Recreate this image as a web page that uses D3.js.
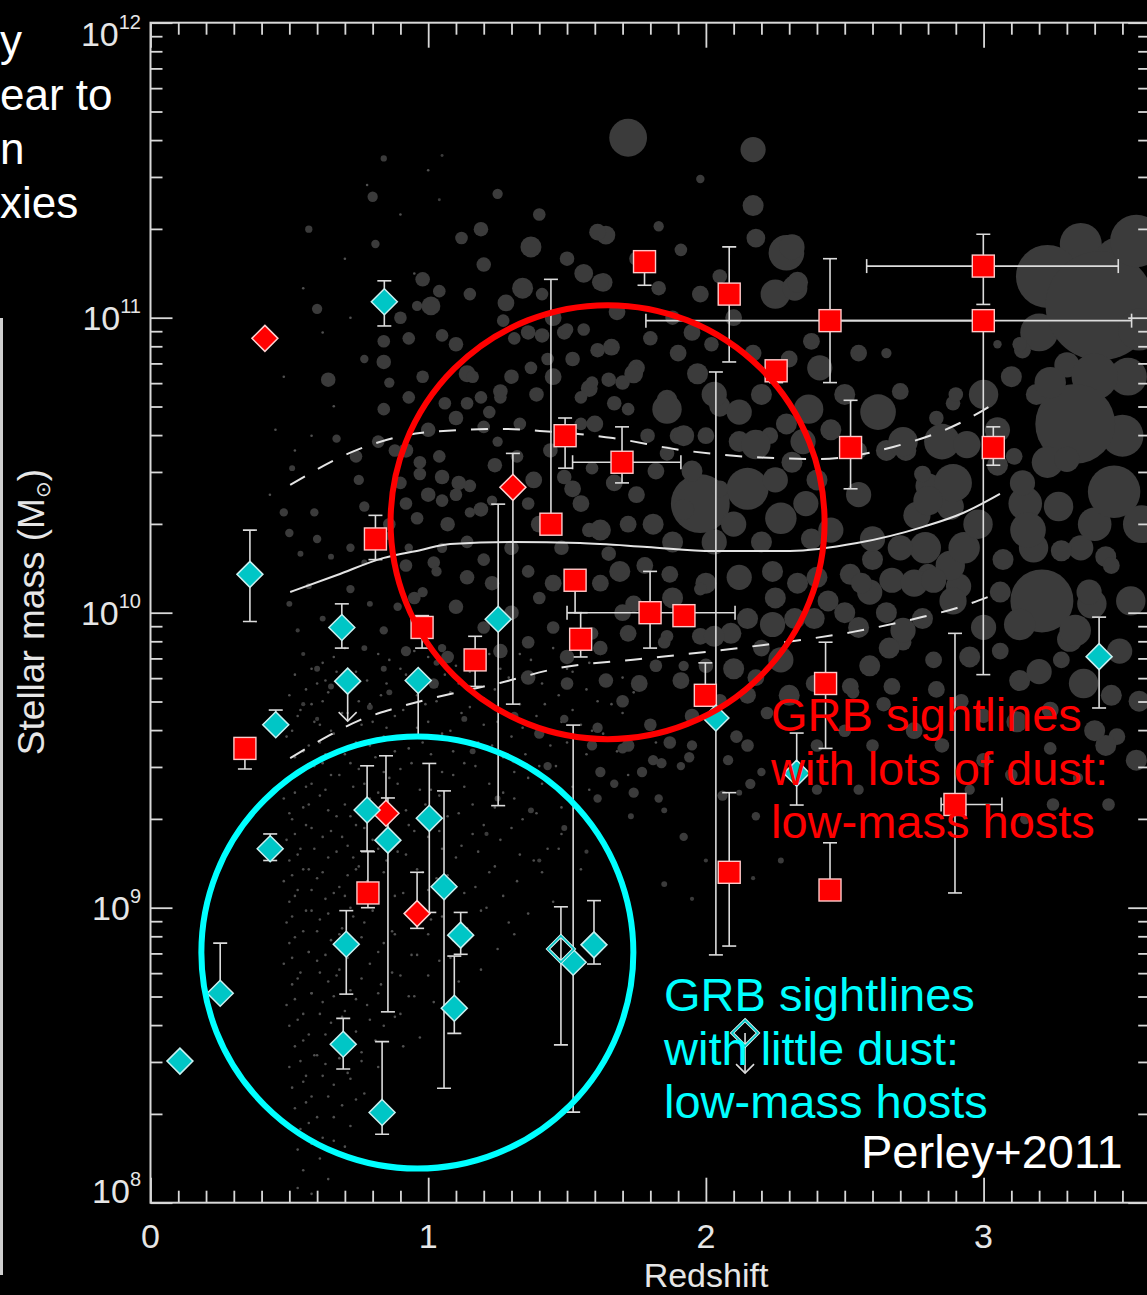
<!DOCTYPE html>
<html>
<head>
<meta charset="utf-8">
<script src="https://cdn.jsdelivr.net/npm/d3@7"></script>
<style>
  html, body { margin: 0; padding: 0; background: #000; overflow: hidden; }
  svg { display: block; }
</style>
</head>
<body>
<script>
// ---------------------------------------------------------------------------
// Field galaxy sample: redshift, log10 stellar mass, star-formation rate
// ---------------------------------------------------------------------------
const fieldGalaxies = [
  // high-mass outliers
  [1.72,11.61,81],[2.17,11.57,36],[2.17,11.38,25],[2.18,11.27,20],[2.29,11.22,72],
  [1.64,11.28,20],[1.98,11.08,16],[2.25,11.08,49],[2.32,11.10,36],[1.83,11.10,12],
  [1.63,11.12,20],[1.91,11.23,9],[2.05,11.14,12],[1.83,11.31,6],[2.31,11.24,36],
  [2.33,11.12,25],[1.98,11.47,4],
  [1.20,11.18,12],[1.28,11.05,16],[1.45,11.00,16],[1.50,11.20,12],[1.68,11.02,16],
  [1.75,11.20,12],[1.88,11.00,12],[1.15,11.08,9],[0.90,11.00,9],[1.40,11.35,9],[1.25,11.42,6],
  // z < 1.6, upper envelope
  [0.84,11.54,2.25],[1.05,11.55,0.5],[0.80,11.41,6],[1.04,11.40,0.5],[0.57,11.30,3],
  [0.81,11.25,4],[1.12,11.27,9],[1.19,11.30,12],[1.37,11.24,25],[0.98,11.13,12],
  [1.04,11.09,9],[1.01,11.04,20],[0.96,11.04,6],[0.60,11.03,6],[1.34,11.10,25],
  [1.56,11.15,20],[1.41,11.08,9],[1.49,10.95,12],[1.41,10.94,12],[1.27,10.99,9],
  [1.31,10.93,9],[1.05,10.94,9],[1.10,10.91,12],[0.84,10.92,9],[0.93,10.93,9],
  [0.77,10.86,4],[0.84,10.85,12],[0.86,10.78,6],[0.64,10.79,12],[0.98,10.80,9],
  [1.14,10.81,16],[1.26,10.73,9],[1.39,10.74,12],[1.58,10.76,16],[0.93,10.73,9],
  [1.06,10.71,9],[1.14,10.71,9],[0.84,10.69,9],[1.20,10.63,9],[1.33,10.64,9],
  [0.67,10.59,4],[0.82,10.58,9],[0.74,10.53,9],[0.92,10.55,12],[1.25,10.58,6],
  [1.32,10.53,9],[0.97,10.47,9],[1.05,10.46,12],[0.75,10.45,6],[1.15,10.43,9],
  [1.49,10.46,12],[0.48,10.34,4],[0.59,10.34,4],[0.92,10.37,9],[1.05,10.38,9],
  [1.15,10.34,6],[1.23,10.38,6],[1.58,10.28,12],[0.77,10.36,6],[0.51,10.49,2],
  [1.61,11.29,16],[1.62,11.12,16],
  // 1 < z < 2.4 around the median
  [1.36,10.95,12],[1.50,10.96,9],[1.56,10.96,9],[1.61,10.89,12],[1.75,10.83,16],
  [1.70,10.78,12],[1.59,10.78,9],[1.55,10.73,9],[1.43,10.86,9],[1.37,10.83,9],
  [1.26,10.75,12],[1.19,10.73,9],[1.16,10.80,9],[1.67,10.71,12],[1.86,10.72,25],
  [1.72,10.69,9],[1.55,10.64,9],[1.60,10.64,16],[1.79,10.60,12],[1.86,10.54,12],
  [2.00,10.60,16],[2.12,10.58,25],[2.23,10.60,16],[2.31,10.51,25],[2.36,10.37,36],
  [2.27,10.32,56],[2.15,10.42,100],[1.98,10.37,196],[2.03,10.24,36],[1.88,10.24,25],
  [1.81,10.30,25],[1.72,10.30,16],[1.62,10.28,25],[1.55,10.37,16],[1.67,10.44,16],
  [1.59,10.49,9],[1.38,10.45,16],[1.36,10.37,9],[1.19,10.35,12],[1.11,10.44,12],
  [1.04,10.53,9],[0.97,10.51,9],[0.90,10.44,9],[0.96,10.32,9],[1.07,10.30,12],
  [1.14,10.24,9],[0.92,10.16,9],[1.02,10.17,9],[1.14,10.12,12],[1.23,10.10,12],
  [1.36,10.14,9],[1.45,10.10,16],[1.62,10.10,16],[1.69,10.14,25],[1.74,10.03,16],
  [1.88,10.05,25],[2.00,10.10,25],[2.12,10.12,36],[2.24,10.14,25],[2.33,10.10,25],
  [2.39,9.98,25],[2.24,9.96,36],[2.09,9.93,25],[1.98,9.92,16],[1.86,9.92,9],
  [1.72,9.93,16],[1.59,9.93,9],[1.45,9.95,9],[1.36,9.90,9],[1.26,9.87,12],
  [1.07,9.85,9],[0.92,9.87,6],[1.02,9.76,6],[1.36,9.78,12],[1.50,9.76,9],
  [1.64,9.77,12],[1.76,9.76,16],[1.91,9.77,16],[2.10,9.81,25],[2.27,9.84,36],
  [2.39,9.76,16],[1.87,10.13,16],[1.98,10.08,9],
  [1.00,10.62,12],[1.10,10.66,12],[1.22,10.68,9],[1.30,10.80,12],[1.45,10.80,16],
  [1.52,10.86,12],[1.66,10.90,16],[1.80,10.93,12],[1.90,10.88,16],[1.24,10.50,12],
  [1.44,10.55,12],[1.52,10.42,16],[1.40,10.30,16],[1.48,10.22,12],[1.30,10.22,12],
  [1.20,10.18,9],[1.10,10.40,9],[1.00,10.40,12],[0.88,10.55,9],[0.86,10.30,9],
  [0.95,10.05,9],[1.10,10.02,12],[1.20,9.95,9],[1.30,10.00,12],[1.40,10.05,9],
  [1.50,9.85,12],[1.62,9.88,12],[1.70,10.00,16],[1.78,10.16,16],[1.65,10.20,12],
  [1.75,10.40,16],[1.82,10.48,16],[1.95,10.48,25],[2.05,10.42,16],[2.05,10.70,25],
  [2.20,10.74,25],[2.30,10.86,16],[1.95,10.95,16],[2.10,11.00,16],
  [2.35,10.58,36],[2.25,10.45,36],[2.38,10.25,25],[2.20,10.24,25],[2.10,10.30,36],
  [1.92,10.35,25],[1.90,10.60,16],
  [2.25,10.05,25],[2.40,10.12,25],[2.50,10.00,25],[2.65,10.00,25],[2.60,10.18,25],[2.78,9.98,25],
  [1.70,9.70,9],[1.80,9.62,9],[1.95,9.65,12],[2.05,9.70,12],[2.15,9.72,16],
  [2.20,9.88,16],[2.00,9.82,12],[1.85,9.90,9],
  // 2.4 < z < 3.1, lower masses
  [2.52,10.13,25],[2.67,10.11,36],[2.80,10.13,25],[2.91,10.09,36],[3.06,10.07,25],
  [2.59,10.07,36],[2.55,9.95,25],[2.71,9.90,16],[2.82,9.84,16],[2.59,9.82,25],
  [2.67,9.75,16],[2.53,9.73,9],[2.31,9.73,9],[2.22,9.66,9],[2.15,9.55,9],
  [2.08,9.50,6],[2.20,9.46,4],[2.12,9.39,2],[1.95,9.55,6],[1.91,9.48,4],
  [1.81,9.50,6],[1.72,9.55,9],[1.59,9.55,6],[1.74,9.39,6],[1.83,9.37,4],
  [1.62,9.46,6],[1.77,9.46,6],[2.27,9.16,2],[2.17,9.10,1],[2.00,9.16,1],
  [1.82,9.82,9],[1.92,9.82,6],[2.18,9.78,16],[2.30,9.72,25],[2.52,9.75,16],
  [2.64,9.69,12],[2.83,9.74,16],[3.00,9.65,12],[3.12,9.63,25],[3.24,9.67,16],
  [3.36,9.76,49],[3.46,9.72,25],[3.48,9.58,16],[3.44,9.55,25],[3.24,9.54,9],
  [3.34,9.44,6],[1.87,9.56,9],[1.84,9.49,6],[1.94,9.51,6],[2.11,9.58,9],
  [2.16,9.42,6],[2.06,9.38,6],[2.18,9.31,4],[1.85,9.33,2],[1.92,9.24,4],
  [1.85,9.08,2],[1.95,9.03,1],
  [2.75,9.60,16],[2.85,9.55,12],[3.00,9.50,12],[3.10,9.45,9],[2.60,9.55,9],
  [2.50,9.60,9],[2.40,9.55,9],[2.40,9.40,6],[2.55,9.40,6],[2.95,9.40,6],
  [3.15,9.30,6],[3.25,9.35,9],[3.45,9.35,9],
  // z > 2.7, most massive and most star-forming
  [3.21,10.04,225],[3.39,10.03,49],[3.49,9.87,36],[2.79,10.22,56],[2.88,10.16,49],
  [2.75,10.10,42],[2.89,10.04,42],[2.71,9.94,36],[2.66,9.88,25],[2.56,10.10,25],
  [2.44,10.04,25],[2.32,9.98,25],[2.15,9.98,25],[2.03,9.92,25],[3.18,10.22,49],
  [3.35,10.22,36],[3.44,10.19,25],[2.93,10.22,56],[2.82,10.11,36],[3.07,10.18,25],
  [3.28,10.21,25],[3.46,10.16,16],[3.38,10.07,36],[3.31,9.91,36],[3.53,10.04,49],
  [3.06,9.87,16],[3.13,9.77,25],[2.92,9.70,12],[3.56,9.70,25],[3.28,9.84,16],
  [3.33,9.94,56],[3.13,9.96,56],
  [2.98,10.30,49],[3.05,10.62,36],[3.10,10.80,25],[3.30,10.84,36],[3.35,11.25,100],
  [3.48,11.20,100],[3.50,10.60,100],[3.52,10.80,81],[3.40,10.30,64],[3.57,10.30,81],
  [3.00,9.95,36],[2.95,9.85,25],[3.20,9.80,36],[3.40,9.60,25],[3.55,9.50,25],
  [2.45,10.62,25],[2.40,10.45,25],[2.45,10.28,36],[2.55,10.40,36],[2.60,10.25,36],
  [2.65,10.55,25],[2.55,10.55,16],[2.70,10.22,36],[2.70,10.75,16],[2.55,10.88,16],
  [1.74,10.81,20],[1.65,10.79,12],[1.97,10.81,25],[2.02,10.91,12],[2.17,10.88,16],
  [2.03,10.74,36],[2.12,10.68,36],[1.86,10.69,49],[1.92,10.60,25],[2.18,10.57,49],
  [2.29,10.64,25],[2.37,10.69,49],[2.41,10.83,36],[2.38,10.92,16],[2.50,10.74,25],
  [2.62,10.68,72],[2.72,10.55,25],[2.85,10.58,72],[2.94,10.57,42],[2.80,10.43,36],
  [2.88,10.36,42],[2.76,10.33,42],[3.00,10.74,49],[2.89,10.71,12],[3.05,10.50,25],
  [3.11,10.53,16],[3.19,10.74,25],[3.20,10.95,81],[3.14,10.89,16],[3.23,11.14,225],
  [3.42,11.04,676],[3.40,10.80,121],[3.33,10.64,361],[3.47,10.41,156],[3.15,10.37,64],
  [3.27,10.36,49],[2.65,10.88,6],[3.13,10.91,12],[3.05,10.91,4],[2.83,10.66,12],
  [2.90,10.74,12],[2.71,10.58,49],[2.78,10.47,16],[2.89,10.44,81],[2.80,10.38,49],
  [3.24,10.78,56],[3.23,10.51,56],[3.14,10.44,36],[3.30,10.52,36],[3.16,10.28,72],
  [3.55,11.26,156],[3.56,10.96,100],
  // z < 1.1, below 10^10.3
  [0.50,10.27,4],[0.54,10.20,2],[0.60,10.25,4],[0.65,10.19,2],[0.72,10.22,4],
  [0.77,10.17,2],[0.50,10.03,2],[0.57,10.09,2],[0.72,10.08,4],[0.79,10.03,2],
  [0.62,9.98,2],[0.53,9.94,1],[0.77,9.88,2],[0.84,9.94,4],[0.89,10.02,4],
  [0.98,10.07,6],[1.03,10.14,6],[1.05,10.22,6],[0.93,10.22,4],[0.86,10.26,4],
  [0.55,9.86,1],[0.60,9.81,2],[0.65,9.75,2],[0.55,9.69,1],[0.84,9.81,2],
  [0.86,9.73,2],[0.79,9.68,2],[0.60,9.64,1],[1.05,9.88,4],[1.03,9.83,2],
  [1.31,9.65,4],[1.40,9.59,6],[1.49,9.64,4],[1.61,9.61,6],[1.70,9.54,6],
  [1.67,9.42,4],[1.61,9.37,4],[1.43,9.48,4],[1.31,9.50,2],[1.25,9.37,2],
  [1.37,9.33,2],[1.49,9.27,2],[1.73,9.31,2],[1.16,9.53,2],[1.13,9.64,2],
  [1.21,9.25,1],[1.57,9.19,1],[1.40,9.16,1]
];

// Faint, low-mass field galaxies: redshift, log10 stellar mass
const faintGalaxies = [
  [0.55,9.86],[0.62,9.83],[0.70,9.88],[0.86,9.84],[0.95,9.87],[1.10,9.82],[1.22,9.86],[1.37,9.84],[1.45,9.88],[1.58,9.83],
  [0.52,9.79],[0.60,9.76],[0.67,9.80],[0.78,9.77],[0.92,9.79],[1.03,9.75],[1.15,9.80],[1.29,9.78],[1.41,9.76],[1.52,9.80],[1.66,9.77],
  [0.50,9.72],[0.58,9.69],[0.64,9.73],[0.75,9.70],[0.83,9.72],[0.99,9.69],[1.08,9.73],[1.20,9.71],[1.33,9.69],[1.47,9.72],[1.61,9.70],[1.74,9.73],
  [0.53,9.65],[0.61,9.62],[0.69,9.66],[0.80,9.63],[0.88,9.65],[0.96,9.61],[1.12,9.66],[1.25,9.63],[1.39,9.65],[1.55,9.62],[1.70,9.66],
  [0.49,9.58],[0.57,9.55],[0.66,9.59],[0.74,9.56],[0.84,9.58],[0.93,9.54],[1.05,9.59],[1.18,9.56],[1.30,9.58],[1.44,9.55],[1.63,9.59],[1.82,9.56],
  [0.52,9.51],[0.59,9.48],[0.63,9.52],[0.72,9.49],[0.81,9.51],[0.90,9.47],[1.01,9.52],[1.13,9.49],[1.27,9.51],[1.40,9.48],[1.57,9.52],
  [0.50,9.44],[0.56,9.41],[0.65,9.45],[0.77,9.42],[0.86,9.44],[0.97,9.40],[1.09,9.45],[1.22,9.42],[1.36,9.44],[1.52,9.41],[1.72,9.45],
  [0.48,9.37],[0.55,9.34],[0.61,9.38],[0.70,9.35],[0.79,9.37],[0.92,9.33],[1.04,9.38],[1.16,9.35],[1.31,9.37],[1.48,9.34],
  [0.51,9.30],[0.58,9.27],[0.67,9.31],[0.74,9.28],[0.83,9.30],[0.95,9.26],[1.07,9.31],[1.20,9.28],[1.34,9.30],[1.60,9.27],
  [0.49,9.23],[0.54,9.20],[0.62,9.24],[0.71,9.21],[0.80,9.23],[0.89,9.19],[1.00,9.24],[1.12,9.21],[1.26,9.23],[1.43,9.20],
  [0.50,9.16],[0.57,9.13],[0.64,9.17],[0.75,9.14],[0.85,9.16],[0.98,9.12],[1.10,9.17],[1.24,9.14],[1.38,9.16],[1.55,9.13],
  [0.48,9.09],[0.53,9.06],[0.60,9.10],[0.68,9.07],[0.78,9.09],[0.91,9.05],[1.03,9.10],[1.17,9.07],[1.32,9.09],
  [0.50,9.02],[0.56,8.99],[0.63,9.03],[0.72,9.00],[0.82,9.02],[0.94,8.98],[1.06,9.03],[1.21,9.00],[1.45,9.02],
  [0.49,8.95],[0.55,8.92],[0.61,8.96],[0.69,8.93],[0.77,8.95],[0.88,8.91],[1.01,8.96],[1.14,8.93],[1.29,8.95],
  [0.50,8.88],[0.57,8.85],[0.65,8.89],[0.73,8.86],[0.84,8.88],[0.96,8.84],[1.09,8.89],[1.25,8.86],
  [0.48,8.81],[0.54,8.78],[0.60,8.82],[0.68,8.79],[0.79,8.81],[0.90,8.77],[1.04,8.82],[1.19,8.79],
  [0.51,8.74],[0.58,8.71],[0.64,8.75],[0.72,8.72],[0.83,8.74],[0.95,8.70],[1.11,8.75],
  [0.49,8.67],[0.55,8.64],[0.62,8.68],[0.70,8.65],[0.78,8.67],[0.88,8.63],[1.02,8.68],
  [0.50,8.60],[0.57,8.57],[0.65,8.61],[0.74,8.58],[0.84,8.60],[0.97,8.56],
  [0.52,8.53],[0.59,8.50],[0.67,8.54],[0.76,8.51],[0.91,8.53],
  [0.50,8.46],[0.56,8.43],[0.63,8.47],[0.71,8.44],[0.82,8.46],
  [0.51,8.39],[0.58,8.36],[0.66,8.40],[0.77,8.37],
  [0.52,8.32],[0.60,8.29],[0.69,8.33],[0.80,8.30],
  [0.54,8.25],[0.62,8.22],[0.72,8.26],
  [0.53,8.18],[0.61,8.15],[0.70,8.19],
  [0.55,8.11],[0.64,8.08],[0.53,8.05],[0.58,8.03],
  [0.58,9.81],[0.66,9.85],[0.74,9.80],[0.82,9.86],[0.90,9.81],[1.00,9.85],[1.06,9.79],[1.18,9.84],[1.26,9.81],[1.33,9.86],[1.50,9.81],[1.62,9.86],
  [0.56,9.74],[0.63,9.77],[0.71,9.73],[0.85,9.76],[0.96,9.72],[1.11,9.76],[1.24,9.74],[1.36,9.77],[1.57,9.74],[1.70,9.78],
  [0.54,9.67],[0.62,9.70],[0.71,9.66],[0.79,9.69],[0.91,9.67],[1.03,9.70],[1.15,9.68],[1.28,9.66],[1.42,9.69],[1.52,9.67],[1.66,9.69],
  [0.51,9.60],[0.59,9.63],[0.65,9.60],[0.76,9.62],[0.85,9.61],[1.00,9.63],[1.08,9.60],[1.20,9.62],[1.34,9.61],[1.48,9.63],[1.59,9.60],
  [0.55,9.53],[0.61,9.56],[0.70,9.52],[0.79,9.55],[0.88,9.53],[0.98,9.56],[1.09,9.53],[1.23,9.55],[1.35,9.52],[1.50,9.56],[1.68,9.53],
  [0.54,9.46],[0.62,9.49],[0.68,9.45],[0.75,9.47],[0.84,9.46],[0.94,9.49],[1.05,9.46],[1.17,9.48],[1.31,9.46],[1.46,9.48],[1.62,9.46],
  [0.52,9.39],[0.58,9.42],[0.63,9.40],[0.73,9.41],[0.82,9.39],[0.89,9.42],[1.01,9.40],[1.13,9.41],[1.27,9.39],[1.41,9.42],[1.58,9.40],
  [0.50,9.32],[0.57,9.35],[0.64,9.33],[0.72,9.31],[0.77,9.34],[0.86,9.32],[0.99,9.35],[1.11,9.32],[1.24,9.34],[1.39,9.32],[1.52,9.35],
  [0.52,9.25],[0.56,9.28],[0.65,9.26],[0.69,9.24],[0.77,9.27],[0.86,9.25],[0.93,9.28],[1.04,9.26],[1.16,9.25],[1.30,9.27],[1.48,9.25],
  [0.53,9.18],[0.59,9.20],[0.67,9.19],[0.73,9.17],[0.82,9.20],[0.92,9.18],[1.05,9.20],[1.18,9.19],[1.33,9.18],[1.47,9.20],
  [0.51,9.11],[0.55,9.13],[0.62,9.12],[0.71,9.11],[0.74,9.13],[0.84,9.12],[0.96,9.13],[1.07,9.11],[1.22,9.12],[1.41,9.12],
  [0.52,9.04],[0.58,9.06],[0.66,9.05],[0.70,9.04],[0.79,9.06],[0.88,9.04],[1.00,9.06],[1.13,9.05],[1.27,9.04],
  [0.51,8.97],[0.58,8.99],[0.64,8.98],[0.73,8.97],[0.80,8.99],[0.92,8.98],[1.05,8.97],[1.19,8.99],[1.36,8.98],
  [0.52,8.90],[0.60,8.92],[0.68,8.91],[0.76,8.90],[0.87,8.92],[1.00,8.91],[1.14,8.90],[1.31,8.91],
  [0.51,8.83],[0.57,8.85],[0.63,8.84],[0.71,8.83],[0.82,8.85],[0.94,8.84],[1.08,8.83],
  [0.53,8.76],[0.61,8.78],[0.67,8.77],[0.76,8.76],[0.87,8.78],[1.00,8.77],
  [0.52,8.69],[0.58,8.71],[0.66,8.70],[0.74,8.69],[0.82,8.71],[0.93,8.70],
  [0.53,8.62],[0.61,8.64],[0.69,8.63],[0.79,8.62],[0.90,8.64],
  [0.55,8.55],[0.63,8.57],[0.71,8.56],[0.81,8.55],
  [0.54,8.48],[0.60,8.50],[0.68,8.49],[0.76,8.48],
  [0.55,8.41],[0.62,8.43],[0.72,8.42],
  [0.56,8.34],[0.64,8.36],[0.74,8.35],
  [0.57,8.27],[0.66,8.29],
  [0.58,8.20],[0.66,8.21],
  [0.55,11.10],[0.62,10.95],[0.70,11.20],[0.48,10.80],[0.78,11.45],[0.66,10.70],[0.58,10.60],
  [0.90,11.35],[1.00,11.50],[0.52,10.55],[0.45,10.62],[0.72,11.00],[0.95,11.15],[0.43,10.40]
];

// Median and 1-sigma envelope of the field mass distribution (redshift, log M)
const medianZ = [0.503,0.672,0.837,0.971,1.079,1.306,1.547,1.788,2.026,2.303,2.544,2.782,2.926,3.059];
const medianM = [10.070,10.128,10.185,10.212,10.233,10.240,10.236,10.223,10.209,10.209,10.236,10.291,10.338,10.403];
const upperZ  = [0.503,0.744,1.006,1.269,1.402,1.665,1.907,2.159,2.411,2.674,2.915,3.059];
const upperM  = [10.433,10.552,10.613,10.623,10.616,10.592,10.552,10.528,10.521,10.562,10.643,10.721];
const lowerZ  = [0.503,0.634,0.754,0.873,1.032,1.258,1.474,1.763,2.026,2.267,2.530,2.782,2.904,3.034];
const lowerM  = [9.507,9.579,9.636,9.674,9.714,9.762,9.813,9.843,9.870,9.898,9.935,9.986,10.016,10.060];

// Dusty GRB hosts (squares): z, log M, log M low, log M high, z low, z high
const dustySquares = [
  [0.340, 9.54, 9.47, null, null, null],
  [0.810, 10.25, 10.18, 10.33, null, null],
  [0.978, 9.95, 9.88, 9.99, null, null],
  [0.783, 9.05, 9.00, 9.19, null, null],
  [1.169, 9.84, 9.75, 9.92, null, null],
  [1.442, 10.30, null, 11.13, null, null],
  [1.493, 10.60, 10.49, 10.66, null, null],
  [1.698, 10.51, 10.44, 10.63, 1.52, 1.91],
  [1.529, 10.11, 10.00, null, null, null],
  [1.549, 9.91, 9.85, 10.00, null, null],
  [1.799, 10.00, 9.88, 10.14, 1.50, 2.105],
  [1.921, 9.99, null, null, null, null],
  [1.998, 9.72, null, 9.83, null, null],
  [2.084, 9.12, 8.87, 9.39, null, null],
  [1.779, 11.19, 11.11, null, null, null],
  [2.084, 11.08, 10.85, 11.24, null, null],
  [2.253, 10.82, 10.78, null, null, null],
  [2.447, 10.99, 10.78, 11.20, 1.784, 2.999],
  [2.521, 10.56, 10.42, 10.72, null, null],
  [2.431, 9.76, 9.54, 9.90, null, null],
  [2.447, 9.06, null, 9.22, null, null],
  [2.999, 11.175, 11.045, 11.283, 2.579, 3.485],
  [2.999, 10.99, 9.79, null, 2.447, 3.533],
  [3.035, 10.56, 10.50, 10.63, null, null],
  [2.897, 9.35, 9.05, 9.93, 2.847, 3.066]
];

// Dusty GRB hosts (diamonds): z, log M, log M low, log M high
const dustyDiamonds = [
  [0.412, 10.93, null, null],
  [1.305, 10.425, 9.69, 10.54],
  [0.848, 9.32, null, 9.515],
  [0.960, 8.98, 8.93, 9.12]
];

// Low-extinction GRB hosts: z, log M, log M low, log M high
const clearHosts = [
  [0.106, 8.48, null, null],
  [0.251, 8.71, null, 8.88],
  [0.358, 10.13, 9.97, 10.28],
  [0.431, 9.20, 9.16, 9.25],
  [0.451, 9.62, null, 9.67],
  [0.689, 9.95, 9.88, 10.03],
  [0.964, 9.77, 9.585, null],
  [0.705, 8.876, 8.707, 8.990],
  [0.694, 8.537, 8.453, 8.625],
  [0.834, 8.306, 8.232, 8.546],
  [0.780, 9.331, 9.192, 9.481],
  [0.855, 9.229, 8.647, 9.372],
  [1.004, 9.303, 8.984, 9.489],
  [1.057, 9.071, 8.388, 9.396],
  [1.117, 8.907, 8.842, 8.984],
  [1.094, 8.659, 8.574, 8.836],
  [1.252, 9.978, 9.346, 10.368],
  [0.842, 11.054, 10.972, 11.125],
  [1.522, 8.815, 8.307, 9.619],
  [1.597, 8.874, 8.809, 9.024],
  [2.036, 9.643, 8.840, 10.816],
  [2.327, 9.456, 9.348, 9.592],
  [3.416, 9.851, 9.677, 9.985]
];
// Low-extinction hosts with open symbols: z, log M, log M low, log M high
const clearOpenHosts = [
  [1.478, 8.860, 8.535, 9.003]
];
// Mass upper limits: z, log M, open symbol
const clearLimits = [
  [0.710, 9.768, false],
  [2.141, 8.575, true]
];

// Axis ticks
const xMajor = [0, 1, 2, 3];
const xMinor = d3.range(1, 36).map(i => i / 10).filter(v => Math.abs(v - Math.round(v)) > 1e-9);
const yExponents = [8, 9, 10, 11, 12];
const yMinor = [8, 9, 10, 11].flatMap(e => [2,3,4,5,6,7,8,9].map(k => k * Math.pow(10, e)));

// ---------------------------------------------------------------------------
const W = 1147, H = 1295;
const FONT = "'Liberation Sans', Arial, Helvetica, sans-serif";
const AXIS = "#d8d8d8";

const svg = d3.select("body").append("svg")
  .attr("width", W).attr("height", H)
  .style("background", "#000");

const x = d3.scaleLinear().domain([0, 3.6]).range([150.5, 1150.2]);
const y = d3.scaleLog().domain([1e8, 1e12]).range([1202.7, 22.7]);
const ym = m => y(Math.pow(10, m));
const rSfr = d3.scaleSqrt().domain([0, 100]).range([0, 21]);

const plot = svg.append("g");
plot.append("clipPath").attr("id", "plotArea")
  .append("rect")
  .attr("x", x(0)).attr("y", y(1e12))
  .attr("width", x(3.6) - x(0)).attr("height", y(1e8) - y(1e12));

// field galaxies
const field = plot.append("g").attr("clip-path", "url(#plotArea)");
field.selectAll("circle.faint").data(faintGalaxies).join("circle")
  .attr("class", "faint")
  .attr("cx", d => x(d[0])).attr("cy", d => ym(d[1]))
  .attr("r", 1.3).attr("fill", "#505050");
field.selectAll("circle.field").data(fieldGalaxies).join("circle")
  .attr("class", "field")
  .attr("cx", d => x(d[0])).attr("cy", d => ym(d[1]))
  .attr("r", d => Math.max(1.3, rSfr(d[2])))
  .attr("fill", "#3b3b3b");

// median and envelope of the field population
const line = d3.line().x(d => x(d[0])).y(d => ym(d[1])).curve(d3.curveMonotoneX);
const zip = (a, b) => a.map((v, i) => [v, b[i]]);
plot.append("path").attr("d", line(zip(medianZ, medianM)))
  .attr("fill", "none").attr("stroke", "#e4e4e4").attr("stroke-width", 2);
[[upperZ, upperM], [lowerZ, lowerM]].forEach(([zs, ms]) => {
  plot.append("path").attr("d", line(zip(zs, ms)))
    .attr("fill", "none").attr("stroke", "#e4e4e4").attr("stroke-width", 2)
    .attr("stroke-dasharray", "17,15");
});

// axes
const gAx = svg.append("g").attr("class", "axes");
function styleAxis(g) {
  g.select(".domain").remove();
  g.selectAll(".tick line").attr("stroke", AXIS).attr("stroke-width", 1.8);
  g.selectAll(".tick text").remove();
}
gAx.append("g").attr("transform", `translate(0,${y(1e8)})`)
  .call(d3.axisBottom(x).tickValues(xMinor).tickSize(-12).tickFormat("")).call(styleAxis);
gAx.append("g").attr("transform", `translate(0,${y(1e8)})`)
  .call(d3.axisBottom(x).tickValues(xMajor).tickSize(-25).tickFormat("")).call(styleAxis);
gAx.append("g").attr("transform", `translate(0,${y(1e12)})`)
  .call(d3.axisTop(x).tickValues(xMinor).tickSize(-12).tickFormat("")).call(styleAxis);
gAx.append("g").attr("transform", `translate(0,${y(1e12)})`)
  .call(d3.axisTop(x).tickValues(xMajor).tickSize(-25).tickFormat("")).call(styleAxis);
gAx.append("g").attr("transform", `translate(${x(0)},0)`)
  .call(d3.axisLeft(y).tickValues(yMinor).tickSize(-12).tickFormat("")).call(styleAxis);
gAx.append("g").attr("transform", `translate(${x(0)},0)`)
  .call(d3.axisLeft(y).tickValues(yExponents.map(e => Math.pow(10, e))).tickSize(-22).tickFormat("")).call(styleAxis);
gAx.append("g").attr("transform", `translate(${x(3.6)},0)`)
  .call(d3.axisRight(y).tickValues(yMinor).tickSize(-12).tickFormat("")).call(styleAxis);
gAx.append("g").attr("transform", `translate(${x(3.6)},0)`)
  .call(d3.axisRight(y).tickValues(yExponents.map(e => Math.pow(10, e))).tickSize(-22).tickFormat("")).call(styleAxis);
gAx.append("rect")
  .attr("x", x(0)).attr("y", y(1e12))
  .attr("width", x(3.6) - x(0)).attr("height", y(1e8) - y(1e12))
  .attr("fill", "none").attr("stroke", AXIS).attr("stroke-width", 2);

// x tick labels
gAx.selectAll("text.xl").data(xMajor).join("text")
  .attr("class", "xl")
  .attr("x", d => x(d)).attr("y", y(1e8) + 45)
  .attr("text-anchor", "middle")
  .attr("font-family", FONT).attr("font-size", 34).attr("fill", "#e6e6e6")
  .text(d => d);

// y tick labels: 10 with superscript exponent; end labels kept inside the frame
yExponents.forEach(e => {
  let base = y(Math.pow(10, e)) + 12;
  if (e === 12) base += 11;
  if (e === 8) base -= 12;
  const t = gAx.append("text")
    .attr("x", 141).attr("y", base)
    .attr("text-anchor", "end")
    .attr("font-family", FONT).attr("fill", "#e6e6e6");
  t.append("tspan").attr("font-size", 34).text("10");
  t.append("tspan").attr("font-size", 20).attr("dy", -17).text(e);
});

// axis titles
gAx.append("text")
  .attr("x", 706).attr("y", 1287)
  .attr("text-anchor", "middle")
  .attr("font-family", FONT).attr("font-size", 34).attr("fill", "#e6e6e6")
  .text("Redshift");
const yt = gAx.append("text")
  .attr("transform", "translate(44,612) rotate(-90)")
  .attr("text-anchor", "middle")
  .attr("font-family", FONT).attr("font-size", 37).attr("fill", "#e6e6e6");
yt.append("tspan").text("Stellar mass (M");
yt.append("tspan").attr("font-size", 20).attr("dy", 6).text("\u2299");
yt.append("tspan").attr("dy", -6).text(")");

// GRB hosts
const marks = svg.append("g").attr("clip-path", "url(#plotArea)");
const BAR = "#dcdcdc", CAP = 7;
function errV(zv, m, lo, hi) {
  const cx = x(zv);
  const y0 = ym(lo == null ? m : lo), y1 = ym(hi == null ? m : hi);
  marks.append("line").attr("x1", cx).attr("x2", cx).attr("y1", y0).attr("y2", y1)
    .attr("stroke", BAR).attr("stroke-width", 1.6);
  [lo, hi].forEach(v => {
    if (v == null) return;
    marks.append("line").attr("x1", cx - CAP).attr("x2", cx + CAP)
      .attr("y1", ym(v)).attr("y2", ym(v))
      .attr("stroke", BAR).attr("stroke-width", 1.6);
  });
}
function errH(zv, m, lo, hi) {
  const cy = ym(m);
  marks.append("line").attr("x1", x(lo)).attr("x2", x(hi)).attr("y1", cy).attr("y2", cy)
    .attr("stroke", BAR).attr("stroke-width", 1.6);
  [lo, hi].forEach(v => {
    marks.append("line").attr("x1", x(v)).attr("x2", x(v))
      .attr("y1", cy - CAP).attr("y2", cy + CAP)
      .attr("stroke", BAR).attr("stroke-width", 1.6);
  });
}
dustySquares.forEach(d => {
  if (d[2] != null || d[3] != null) errV(d[0], d[1], d[2], d[3]);
  if (d[4] != null) errH(d[0], d[1], d[4], d[5]);
});
dustyDiamonds.forEach(d => { if (d[2] != null || d[3] != null) errV(d[0], d[1], d[2], d[3]); });
clearHosts.forEach(d => { if (d[2] != null || d[3] != null) errV(d[0], d[1], d[2], d[3]); });
clearOpenHosts.forEach(d => errV(d[0], d[1], d[2], d[3]));

// upper-limit arrows
clearLimits.forEach(d => {
  const cx = x(d[0]), cy = ym(d[1]), tip = cy + 40;
  marks.append("line").attr("x1", cx).attr("x2", cx).attr("y1", cy).attr("y2", tip)
    .attr("stroke", BAR).attr("stroke-width", 1.6);
  marks.append("path").attr("d", `M${cx - 9},${tip - 9}L${cx},${tip}L${cx + 9},${tip - 9}`)
    .attr("fill", "none").attr("stroke", BAR).attr("stroke-width", 1.6);
});

const diamond = "M0,-13L13,0L0,13L-13,0Z";
marks.selectAll("rect.dusty").data(dustySquares).join("rect")
  .attr("class", "dusty")
  .attr("x", d => x(d[0]) - 11).attr("y", d => ym(d[1]) - 11)
  .attr("width", 22).attr("height", 22)
  .attr("fill", "#ff0000").attr("stroke", "#ffc8c8").attr("stroke-width", 1.4);
marks.selectAll("path.dustyD").data(dustyDiamonds).join("path")
  .attr("class", "dustyD")
  .attr("d", diamond)
  .attr("transform", d => `translate(${x(d[0])},${ym(d[1])})`)
  .attr("fill", "#ff0000").attr("stroke", "#ffd0d0").attr("stroke-width", 1.5);
marks.selectAll("path.clear").data(clearHosts.concat(clearLimits.filter(d => !d[2]))).join("path")
  .attr("class", "clear")
  .attr("d", diamond)
  .attr("transform", d => `translate(${x(d[0])},${ym(d[1])})`)
  .attr("fill", "#00c6c6").attr("stroke", "#c8f0f0").attr("stroke-width", 1.5);
const openSet = clearOpenHosts.concat(clearLimits.filter(d => d[2]));
marks.selectAll("path.openOut").data(openSet).join("path")
  .attr("class", "openOut")
  .attr("d", diamond)
  .attr("transform", d => `translate(${x(d[0])},${ym(d[1])})`)
  .attr("fill", "none").attr("stroke", "#d8f4f4").attr("stroke-width", 3.4);
marks.selectAll("path.openIn").data(openSet).join("path")
  .attr("class", "openIn")
  .attr("d", diamond)
  .attr("transform", d => `translate(${x(d[0])},${ym(d[1])})`)
  .attr("fill", "none").attr("stroke", "#00c6c6").attr("stroke-width", 1.6);

// highlighted populations
const rings = [
  { z: 1.646, m: 10.307, r: 217, color: "#ff0000" },
  { z: 0.961, m: 8.848, r: 216, color: "#00ffff" }
];
svg.selectAll("circle.ring").data(rings).join("circle")
  .attr("class", "ring")
  .attr("cx", d => x(d.z)).attr("cy", d => ym(d.m)).attr("r", d => d.r)
  .attr("fill", "none").attr("stroke", d => d.color).attr("stroke-width", 6);

// annotations
function block(lines, x0, y0, color, dy) {
  lines.forEach((s, i) => {
    svg.append("text").attr("x", x0).attr("y", y0 + i * dy)
      .attr("font-family", FONT).attr("font-size", 47).attr("fill", color)
      .text(s);
  });
}
block(["GRB sightlines", "with lots of dust:", "low-mass hosts"], 771, 731, "#ff0000", 53.5);
block(["GRB sightlines", "with little dust:", "low-mass hosts"], 664, 1011, "#00ffff", 53.5);
svg.append("text").attr("x", 861).attr("y", 1168)
  .attr("font-family", FONT).attr("font-size", 47).attr("fill", "#ffffff")
  .text("Perley+2011");

// slide text to the left of the chart
[["y", 56], ["ear to", 110], ["n", 164], ["xies", 218]].forEach(([s, yb]) => {
  svg.append("text").attr("x", 0).attr("y", yb)
    .attr("font-family", FONT).attr("font-size", 44).attr("fill", "#ffffff").text(s);
});
svg.append("line").attr("x1", 1.5).attr("x2", 1.5).attr("y1", 318).attr("y2", 1275)
  .attr("stroke", "#cfcfcf").attr("stroke-width", 3);
</script>
</body>
</html>
